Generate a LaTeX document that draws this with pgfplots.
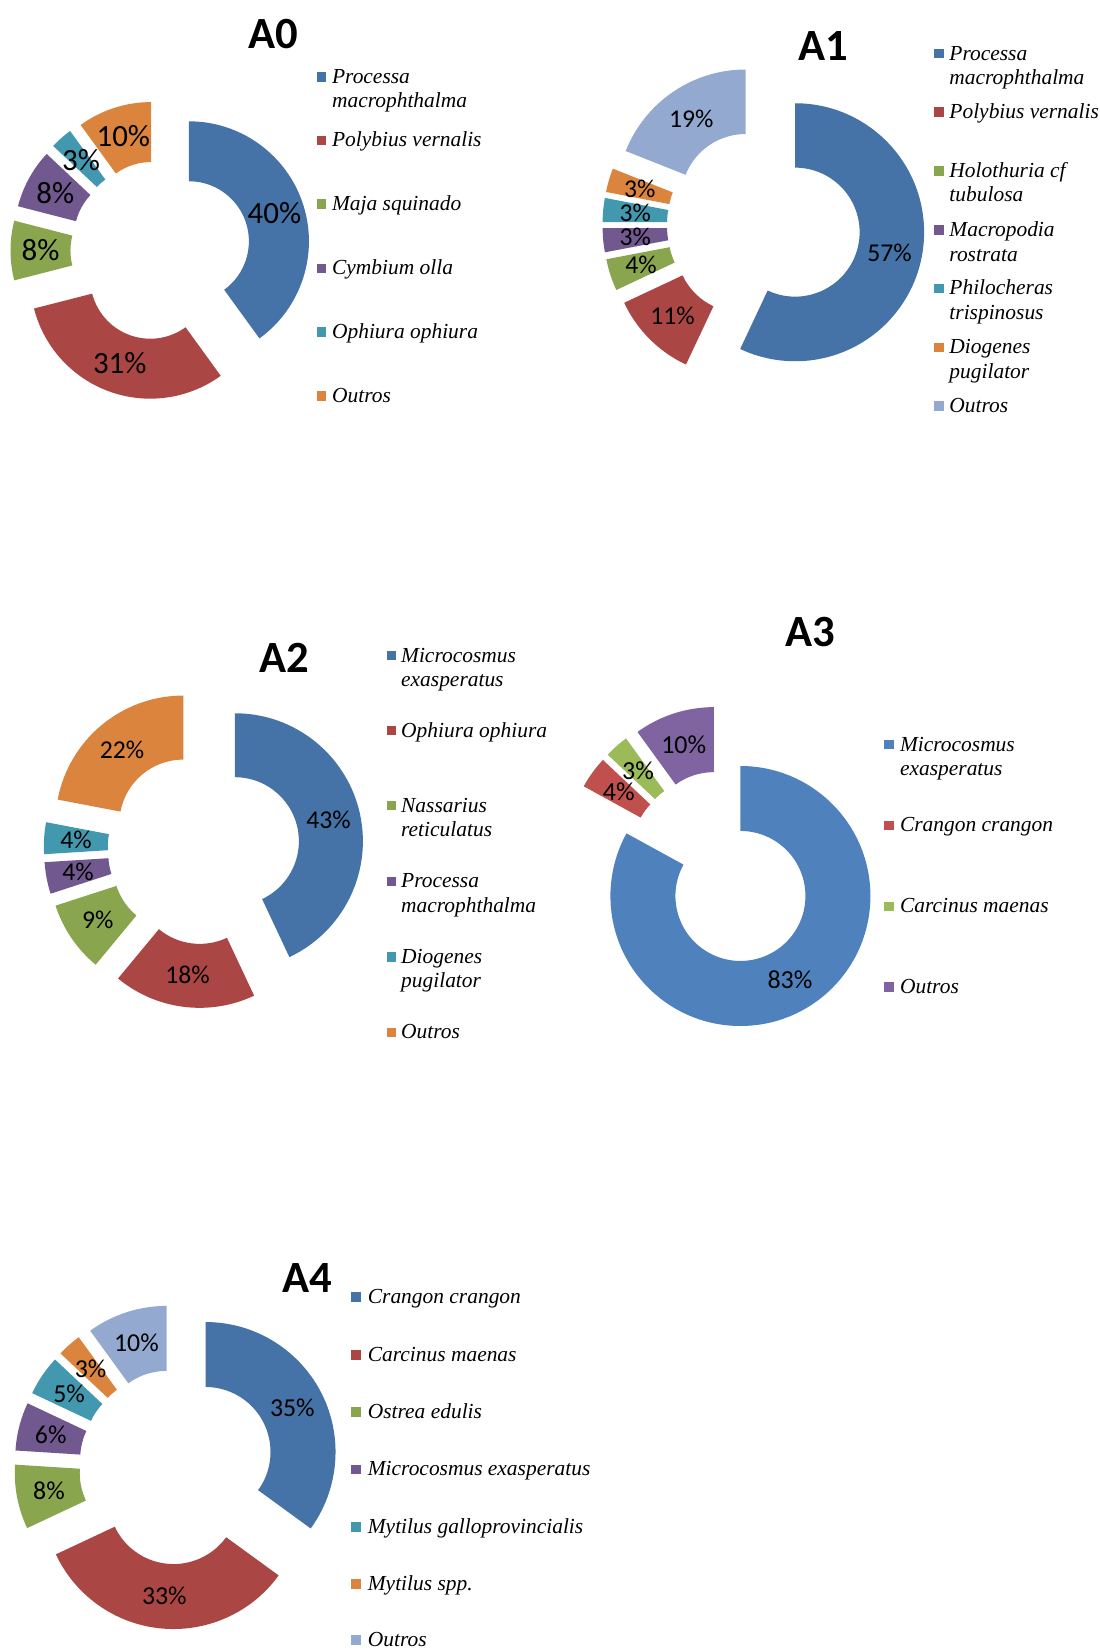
\documentclass[border=0pt]{standalone}
\usepackage{pgfplots}
\pgfplotsset{compat=1.18}
\usepackage{fontspec}
\setmainfont{Liberation Serif}
\newfontfamily\carlito{Carlito}
\newfontfamily\legserif{Liberation Serif}

\definecolor{cblue}{HTML}{4572A7}
\definecolor{cred}{HTML}{AA4643}
\definecolor{cgreen}{HTML}{89A54E}
\definecolor{cpurple}{HTML}{71588F}
\definecolor{cteal}{HTML}{4198AF}
\definecolor{corange}{HTML}{DB843D}
\definecolor{clblue}{HTML}{93A9CF}
\definecolor{dblue}{HTML}{4F81BD}
\definecolor{dred}{HTML}{C0504D}
\definecolor{dgreen}{HTML}{9BBB59}
\definecolor{dpurple}{HTML}{8064A2}

% exploded donut: #1 cx, #2 cy (px, y down), #3 outer radius (px), #4 label font size (pt), #5 list value/colour
\newcommand\donut[5]{%
  \gdef\cum{0}%
  \foreach \v/\col in {#5}{%
    \pgfmathsetmacro\a{\cum*3.6}%
    \pgfmathsetmacro\b{(\cum+\v)*3.6}%
    \pgfmathsetmacro\m{(\a+\b)/2}%
    \pgfmathsetmacro\d{0.25*#3}%
    \pgfmathsetmacro\ccx{#1+\d*sin(\m)}%
    \pgfmathsetmacro\ccy{#2-\d*cos(\m)}%
    \pgfmathsetmacro\sx{\ccx+#3*sin(\a)}%
    \pgfmathsetmacro\sy{\ccy-#3*cos(\a)}%
    \pgfmathsetmacro\ex{\ccx+0.5*#3*sin(\b)}%
    \pgfmathsetmacro\ey{\ccy-0.5*#3*cos(\b)}%
    \pgfmathsetmacro\lx{\ccx+0.75*#3*sin(\m)}%
    \pgfmathsetmacro\ly{\ccy-0.75*#3*cos(\m)}%
    \pgfmathsetmacro\ta{90-\a}%
    \pgfmathsetmacro\tb{90-\b}%
    \pgfmathsetmacro\Ro{#3/100}%
    \pgfmathsetmacro\Ri{#3/200}%
    \edef\doit{\noexpand\fill[\col] (axis cs:\sx,\sy) arc[start angle=\ta, end angle=\tb, radius=\Ro cm] -- (axis cs:\ex,\ey) arc[start angle=\tb, end angle=\ta, radius=\Ri cm] -- cycle;
      \noexpand\node[inner sep=0pt, font={\noexpand\carlito\noexpand\fontsize{#4}{#4}\noexpand\selectfont}] at (axis cs:\lx,\ly) {\v\noexpand\%};}%
    \doit
    \pgfmathsetmacro\newcum{\cum+\v}\xdef\cum{\newcum}%
  }%
}

% legend entry: #1 square centre x, #2 text x, #3 y centre, #4 colour, #5 line 1, #6 line 2
\newcommand\legentry[6]{%
  \fill[#4] (axis cs:#1-4.8,#3-4.8) rectangle (axis cs:#1+4.8,#3+4.8);
  \node[anchor=base west, inner sep=0pt, font={\legserif\itshape\fontsize{6.1}{7}\selectfont}] at (axis cs:#2,#3+6.5) {#5};
  \node[anchor=base west, inner sep=0pt, font={\legserif\itshape\fontsize{6.1}{7}\selectfont}] at (axis cs:#2,#3+31) {#6};
}
\newcommand\ttl[3]{%
  \node[inner sep=0pt, font={\carlito\bfseries\fontsize{12.7}{14}\selectfont}] at (axis cs:#1,#2) {#3};
}

\begin{document}
\begin{tikzpicture}
\useasboundingbox (0,0) rectangle (11,16.51);
\begin{axis}[at={(0,0)}, anchor=south west, x=0.01cm, y=0.01cm,
  xmin=0, xmax=1100, ymin=0, ymax=1651, y dir=reverse,
  hide axis, clip=false, scale only axis]

% ---------- A0 ----------
\ttl{273.7}{33.5}{A0}
\donut{160.5}{249.7}{120}{8.8}{40/cblue,31/cred,8/cgreen,8/cpurple,3/cteal,10/corange}
\legentry{321.5}{331.6}{75.8}{cblue}{Processa}{macrophthalma}
\legentry{321.5}{331.6}{139.5}{cred}{Polybius vernalis}{}
\legentry{321.5}{331.6}{203.3}{cgreen}{Maja squinado}{}
\legentry{321.5}{331.6}{267.5}{cpurple}{Cymbium olla}{}
\legentry{321.5}{331.6}{331.5}{cteal}{Ophiura ophiura}{}
\legentry{321.5}{331.6}{395.5}{corange}{Outros}{}

% ---------- A1 ----------
\ttl{823.5}{45}{A1}
\donut{764.1}{224.3}{129}{7.3}{57/cblue,11/cred,4/cgreen,3/cpurple,3/cteal,3/corange,19/clblue}
\legentry{939.8}{949.3}{52.7}{cblue}{Processa}{macrophthalma}
\legentry{939.8}{949.3}{111}{cred}{Polybius vernalis}{}
\legentry{939.8}{949.3}{170}{cgreen}{Holothuria cf}{tubulosa}
\legentry{939.8}{949.3}{229.3}{cpurple}{Macropodia}{rostrata}
\legentry{939.8}{949.3}{287.5}{cteal}{Philocheras}{trispinosus}
\legentry{939.8}{949.3}{346.7}{corange}{Diogenes}{pugilator}
\legentry{939.8}{949.3}{405}{clblue}{Outros}{}

% ---------- A2 ----------
\ttl{284}{657}{A2}
\donut{203.8}{847.7}{128}{7.3}{43/cblue,18/cred,9/cgreen,4/cpurple,4/cteal,22/corange}
\legentry{391.7}{400.7}{655}{cblue}{Microcosmus}{exasperatus}
\legentry{391.7}{400.7}{730}{cred}{Ophiura ophiura}{}
\legentry{391.7}{400.7}{805}{cgreen}{Nassarius}{reticulatus}
\legentry{391.7}{400.7}{881}{cpurple}{Processa}{macrophthalma}
\legentry{391.7}{400.7}{956.5}{cteal}{Diogenes}{pugilator}
\legentry{391.7}{400.7}{1032}{corange}{Outros}{}

% ---------- A3 ----------
\ttl{811}{631.7}{A3}
\donut{724.3}{867.5}{130}{7.4}{83/dblue,4/dred,3/dgreen,10/dpurple}
\legentry{889.5}{899.9}{744}{dblue}{Microcosmus}{exasperatus}
\legentry{889.5}{899.9}{825}{dred}{Crangon crangon}{}
\legentry{889.5}{899.9}{906}{dgreen}{Carcinus maenas}{}
\legentry{889.5}{899.9}{986.5}{dpurple}{Outros}{}

% ---------- A4 ----------
\ttl{307.7}{1277.5}{A4}
\donut{176.7}{1466.6}{130}{7.35}{35/cblue,33/cred,8/cgreen,6/cpurple,5/cteal,3/corange,10/clblue}
\legentry{356.5}{367.4}{1296.5}{cblue}{Crangon crangon}{}
\legentry{356.5}{367.4}{1355}{cred}{Carcinus maenas}{}
\legentry{356.5}{367.4}{1411.7}{cgreen}{Ostrea edulis}{}
\legentry{356.5}{367.4}{1469.3}{cpurple}{Microcosmus exasperatus}{}
\legentry{356.5}{367.4}{1526.7}{cteal}{Mytilus galloprovincialis}{}
\legentry{356.5}{367.4}{1584}{corange}{Mytilus spp.}{}
\legentry{356.5}{367.4}{1640}{clblue}{Outros}{}

\end{axis}
\end{tikzpicture}
\end{document}
